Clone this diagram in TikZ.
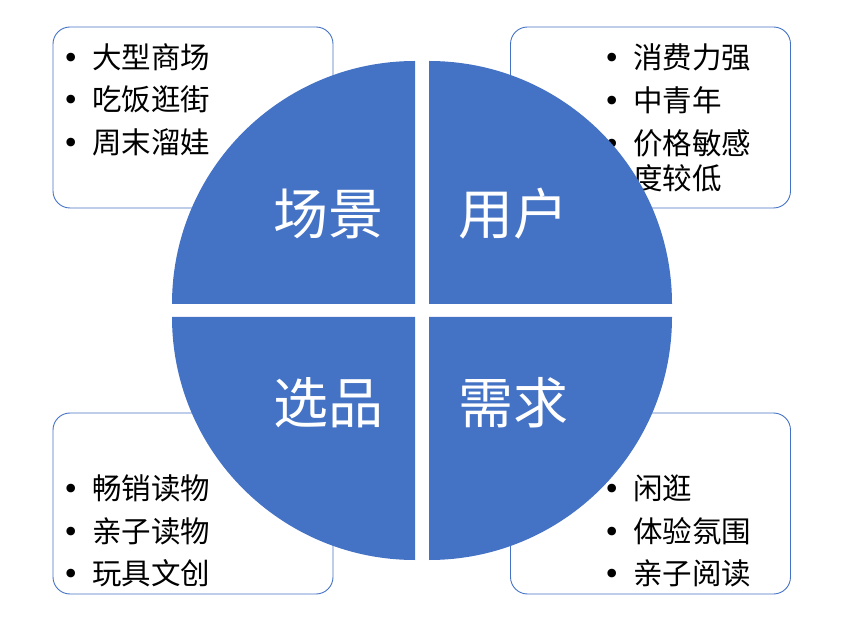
\documentclass[tikz,border=0pt]{standalone}
\usepackage{fontspec}
\newfontfamily\cjkfont{Noto Sans CJK SC}
\newfontfamily\dotfont{DejaVu Sans}
\usetikzlibrary{positioning}

\definecolor{quadblue}{HTML}{4472C4}
\newcommand{\itemdot}{\llap{{\dotfont •}\hspace{12pt}}}

\begin{document}
\begin{tikzpicture}[
  x=1pt, y=-1pt,
  quad/.style={fill=quadblue, draw=none},
  infobox/.style={draw=quadblue, line width=0.9pt, fill=white, rounded corners=17pt,
    minimum width=280pt, minimum height=181pt, inner sep=0pt},
  item/.style={anchor=west, inner sep=0pt, font=\cjkfont\fontsize{29.5}{34}\selectfont},
  title/.style={text=white, inner sep=0pt, font=\cjkfont\fontsize{55}{60}\selectfont}
]
\useasboundingbox (0,0) rectangle (865,628);

% boxes behind the circle
\node[infobox] (scenebox) at (193,117.5) {};
\node[infobox] (userbox) at (650.5,117.5) {};
\node[infobox] (pickbox) at (193,503.5) {};
\node[infobox] (needbox) at (650.5,503.5) {};

% list items
\node[item] (scene1) at (92,57) {\itemdot 大型商场};
\node[item] (scene2) at (92,99) {\itemdot 吃饭逛街};
\node[item] (scene3) at (92,142) {\itemdot 周末溜娃};

\node[item] (user1) at (633,57) {\itemdot 消费力强};
\node[item] (user2) at (633,100) {\itemdot 中青年};
\node[item] (user3) at (633,143) {\itemdot 价格敏感};
\node[item] (user3b) at (633,178) {度较低};

\node[item] (pick1) at (92,488) {\itemdot 畅销读物};
\node[item] (pick2) at (92,531) {\itemdot 亲子读物};
\node[item] (pick3) at (92,573) {\itemdot 玩具文创};

\node[item] (need1) at (633,488) {\itemdot 闲逛};
\node[item] (need2) at (633,531) {\itemdot 体验氛围};
\node[item] (need3) at (633,573) {\itemdot 亲子阅读};

% four quarters of the circle
\fill[quad] (415,304) -- ++(180:243pt) arc[start angle=180, end angle=90, radius=243pt] -- cycle;
\fill[quad] (429,304) -- ++(90:243pt) arc[start angle=90, end angle=0, radius=243pt] -- cycle;
\fill[quad] (415,317) -- ++(180:243pt) arc[start angle=180, end angle=270, radius=243pt] -- cycle;
\fill[quad] (429,317) -- ++(0:243pt) arc[start angle=0, end angle=-90, radius=243pt] -- cycle;

\node[title] (scene) at (328,214) {场景};
\node[title] (user) at (513,214) {用户};
\node[title] (pick) at (328,403) {选品};
\node[title] (need) at (513,403) {需求};
\end{tikzpicture}
\end{document}
